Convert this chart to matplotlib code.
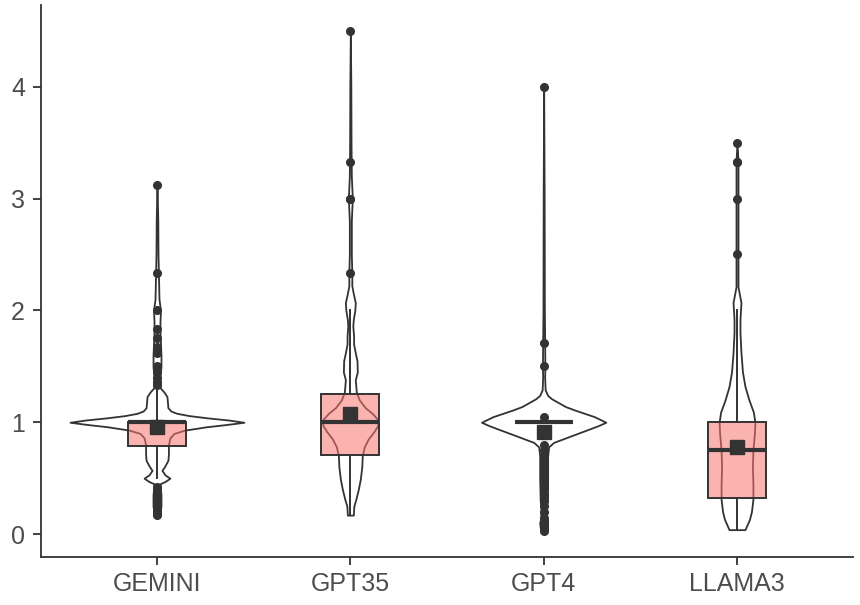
import numpy as np
from matplotlib import pyplot as plt

# categories on the x axis
models = ['GEMINI', 'GPT35', 'GPT4', 'LLAMA3']

# violin outlines: y values and density (arbitrary units)
gemini_y = [0.17, 0.2, 0.25, 0.3, 0.35, 0.4, 0.45, 0.47, 0.5, 0.53, 0.57, 0.61, 0.66, 0.72, 0.8,
            0.86, 0.9, 0.93, 0.96, 0.98, 1.0, 1.02, 1.04, 1.06, 1.08, 1.1, 1.13, 1.18, 1.23,
            1.27, 1.31, 1.4, 1.5, 1.6, 1.7, 1.8, 1.9, 2.0, 2.1, 2.3, 2.5, 2.8, 3.13]
gemini_d = [0, 3, 4, 4, 4, 3.5, 3, 8, 13, 8, 5, 8, 11, 11.5, 11.5,
            13, 17, 28, 50, 70, 87.5, 72, 50, 32, 20, 14, 11, 10.5, 10,
            7, 3, 3, 4, 4, 3.5, 3, 3, 3.5, 2, 1.5, 1, 0.8, 0]

gpt35_y = [0.17, 0.25, 0.31, 0.4, 0.49, 0.6, 0.7, 0.78, 0.85, 0.92, 0.97, 1.0, 1.03, 1.08,
           1.13, 1.2, 1.27, 1.38, 1.45, 1.55, 1.62, 1.7, 1.77, 1.86, 1.92, 2.0, 2.07, 2.15,
           2.22, 2.33, 2.5, 2.8, 3.0, 3.2, 3.5, 4.0, 4.5]
gpt35_d = [3, 3.5, 5.5, 8, 10, 11.5, 12, 14, 18, 24, 27.5, 28, 27, 22,
           15, 9, 6, 5, 7, 6.7, 5, 3.3, 3.3, 2.5, 3, 4.5, 5, 3,
           1.5, 1.5, 1, 1, 2, 1, 0.7, 0.5, 0]

gpt4_y = [0.03, 0.06, 0.1, 0.14, 0.2, 0.3, 0.5, 0.7, 0.78, 0.82, 0.86, 0.9, 0.94, 0.97, 1.0,
          1.02, 1.05, 1.08, 1.11, 1.14, 1.18, 1.21, 1.24, 1.29, 1.4, 1.5, 1.71, 2.0, 3.0, 4.0]
gpt4_d = [2, 3.5, 4, 3, 2.5, 3.5, 4, 4, 5, 10, 22, 34, 46, 55, 62.5,
          58, 51, 41, 31, 22, 14, 8, 4, 1.5, 1, 1.2, 1, 0.7, 0.5, 0]

llama3_y = [0.04, 0.08, 0.13, 0.2, 0.31, 0.45, 0.6, 0.75, 0.9, 1.0, 1.09, 1.2, 1.32, 1.45,
            1.62, 1.8, 1.92, 2.0, 2.07, 2.14, 2.21, 2.5, 3.0, 3.33, 3.5]
llama3_d = [8, 10, 12.5, 14.5, 16, 16, 15.5, 16, 17.5, 18, 16.5, 12, 8, 5.5,
            4, 3, 3, 3.5, 4, 2.5, 1, 1, 1, 1, 0]

# box plot statistics
q1 = [0.79, 0.71, 1.0, 0.32]
medians = [1.0, 1.0, 1.0, 0.75]
q3 = [1.0, 1.25, 1.0, 1.0]
whisk_lo = [0.5, 0.17, 1.0, 0.04]
whisk_hi = [1.3, 2.0, 1.0, 2.0]
means = [0.96, 1.07, 0.91, 0.78]

# outliers
gemini_out = [3.125, 2.33, 2.0, 1.83, 1.75, 1.67, 1.62, 1.5, 1.45, 1.4, 1.36, 1.33,
              0.42, 0.4, 0.38, 0.36, 0.33, 0.33, 0.3, 0.28, 0.25, 0.22, 0.2, 0.18, 0.17]
gpt35_out = [4.5, 3.33, 3.0, 3.0, 2.33]
gpt4_out = [4.0, 1.71, 1.5, 1.05, 0.8, 0.75, 0.71, 0.67, 0.62, 0.6, 0.57, 0.53, 0.5,
            0.45, 0.4, 0.36, 0.33, 0.3, 0.25, 0.2, 0.14, 0.12, 0.1, 0.08, 0.06, 0.05, 0.03]
llama3_out = [3.5, 3.33, 3.33, 3.0, 2.5]

dark = '#333333'
box_fill = (248 / 255, 118 / 255, 109 / 255, 0.55)

violin_y = [gemini_y, gpt35_y, gpt4_y, llama3_y]
violin_d = [gemini_d, gpt35_d, gpt4_d, llama3_d]
outliers = [gemini_out, gpt35_out, gpt4_out, llama3_out]
positions = np.arange(1, len(models) + 1)

plt.rcParams['font.family'] = ['Liberation Sans', 'DejaVu Sans']

fig = plt.figure(figsize=(8.6, 6.05), dpi=100)
ax = fig.add_axes([41 / 860, 1 - 556.5 / 605, (853 - 41) / 860, (556.5 - 5) / 605])

# violins, scaled by area like ggplot (widest one = 0.9)
dmax = max(max(d) for d in violin_d)
vpstats = []
for ys, ds in zip(violin_y, violin_d):
    vpstats.append({'coords': np.array(ys), 'vals': np.array(ds),
                    'mean': np.mean(ys), 'median': np.median(ys),
                    'min': min(ys), 'max': max(ys)})
widths = [0.9 * max(d) / dmax for d in violin_d]
parts = ax.violin(vpstats, positions=positions, widths=widths,
                  showmeans=False, showextrema=False, showmedians=False)
for body in parts['bodies']:
    body.set_facecolor('white')
    body.set_edgecolor(dark)
    body.set_linewidth(1.3)
    body.set_alpha(1)
    body.set_zorder(1)

# box plots
bstats = []
for i, m in enumerate(models):
    bstats.append({'label': m, 'med': medians[i], 'q1': q1[i], 'q3': q3[i],
                   'whislo': whisk_lo[i], 'whishi': whisk_hi[i],
                   'fliers': outliers[i], 'mean': means[i]})
ax.bxp(bstats, positions=positions, widths=0.3, patch_artist=True,
       showmeans=True, showcaps=False,
       boxprops=dict(facecolor=box_fill, edgecolor=dark, linewidth=1.4, zorder=3),
       medianprops=dict(color=dark, linewidth=3, solid_capstyle='butt', zorder=4),
       whiskerprops=dict(color=dark, linewidth=1.4, zorder=2),
       flierprops=dict(marker='o', markerfacecolor=dark, markeredgecolor=dark,
                       markersize=5.5, zorder=4),
       meanprops=dict(marker='s', markerfacecolor=dark, markeredgecolor=dark,
                      markersize=10.5, zorder=5))

ax.set_xlim(0.4, 4.6)
ax.set_ylim(-0.2, 4.73)
ax.set_xticks(positions)
ax.set_xticklabels(models)
ax.set_yticks([0, 1, 2, 3, 4])

for side in ['top', 'right']:
    ax.spines[side].set_visible(False)
for side in ['left', 'bottom']:
    ax.spines[side].set_color(dark)
    ax.spines[side].set_linewidth(1.3)
ax.tick_params(axis='both', colors=dark, length=5.5, width=1.3, labelsize=18,
               labelcolor='#4D4D4D')
ax.tick_params(axis='y', pad=6)
ax.tick_params(axis='x', pad=6)

fig.savefig('out.png', dpi=100)
